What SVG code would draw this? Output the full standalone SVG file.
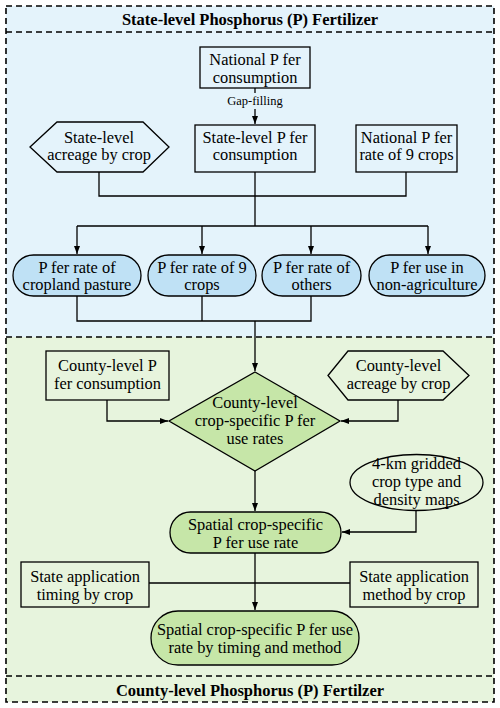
<svg xmlns="http://www.w3.org/2000/svg" width="500" height="708" viewBox="0 0 500 708">
<style>
text{font-family:"Liberation Serif","Times New Roman",serif;font-size:16.4px;fill:#000;text-anchor:middle}
.title{font-weight:bold;font-size:16.5px}
.small{font-size:12.5px}
.box{fill:none;stroke:#000;stroke-width:1.3}
.blue{fill:#bfe1f5;stroke:#000;stroke-width:1.3}
.green{fill:#c6e6a8;stroke:#000;stroke-width:1.3}
.dash{fill:none;stroke:#000;stroke-width:1.6;stroke-dasharray:6,4}
.ln{fill:none;stroke:#000;stroke-width:1.3}
.arr{fill:none;stroke:#000;stroke-width:1.3;marker-end:url(#ah)}
</style>
<defs>
<marker id="ah" markerUnits="userSpaceOnUse" markerWidth="9" markerHeight="7" refX="8" refY="3" orient="auto">
<path d="M0,0 L8,3 L0,6 z" fill="#000"/>
</marker>
</defs>
<g id="background">
<rect x="6" y="6" width="488" height="331" fill="#e4f3fb"/>
<rect x="6" y="337" width="488" height="365" fill="#e7f4dd"/>
<rect x="6" y="6" width="488" height="696" class="dash"/>
<line x1="6" y1="32" x2="494" y2="32" class="dash"/>
<line x1="6" y1="337" x2="494" y2="337" class="dash"/>
<line x1="6" y1="676" x2="494" y2="676" class="dash"/>
<text x="250" y="24.5" class="title">State-level Phosphorus (P) Fertilizer</text>
<text x="250" y="695.5" class="title">County-level Phosphorus (P) Fertilzer</text>
</g>
<g id="connectors">
<line x1="255" y1="88" x2="255" y2="93" class="ln"/>
<line x1="255" y1="109" x2="255" y2="124" class="arr"/>
<text x="255" y="104.5" class="small">Gap-filling</text>
<polyline points="99,172 99,196 406,196 406,172" class="ln"/>
<line x1="255" y1="172" x2="255" y2="226" class="ln"/>
<line x1="77" y1="226" x2="428" y2="226" class="ln"/>
<line x1="77" y1="226" x2="77" y2="254" class="arr"/>
<line x1="202" y1="226" x2="202" y2="254" class="arr"/>
<line x1="311" y1="226" x2="311" y2="254" class="arr"/>
<line x1="428" y1="226" x2="428" y2="254" class="arr"/>
<polyline points="77,296 77,321 311,321 311,296" class="ln"/>
<line x1="202" y1="296" x2="202" y2="321" class="ln"/>
<line x1="255" y1="321" x2="255" y2="371" class="arr"/>
<polyline points="107,400 107,421 168,421" class="arr"/>
<polyline points="398,400 398,421 341,421" class="arr"/>
<line x1="255" y1="471" x2="255" y2="511" class="arr"/>
<polyline points="416,511 416,532 342,532" class="arr"/>
<line x1="149" y1="583" x2="350" y2="583" class="ln"/>
<line x1="255" y1="553" x2="255" y2="610" class="arr"/>
</g>
<g id="n-national-cons">
<rect x="200" y="47" width="110" height="41" class="box"/>
<text x="255" y="65">National P fer</text>
<text x="255" y="82.5">consumption</text>
</g>
<g id="n-state-acreage">
<polygon points="30,147 57,122 143,122 169,147 143,172 57,172" class="box"/>
<text x="99" y="142.5">State-level</text>
<text x="99" y="160">acreage by crop</text>
</g>
<g id="n-state-cons">
<rect x="195" y="125" width="120" height="47" class="box"/>
<text x="255" y="142.5">State-level P fer</text>
<text x="255" y="160">consumption</text>
</g>
<g id="n-national-rate">
<rect x="356" y="125" width="101" height="47" class="box"/>
<text x="406.5" y="142.5">National P fer</text>
<text x="406.5" y="160">rate of 9 crops</text>
</g>
<g id="n-rate-pasture">
<rect x="13" y="255" width="128" height="41" rx="20.5" class="blue"/>
<text x="77" y="272.5">P fer rate of</text>
<text x="77" y="290">cropland pasture</text>
</g>
<g id="n-rate-9crops">
<rect x="148" y="255" width="108" height="41" rx="20.5" class="blue"/>
<text x="202" y="272.5">P fer rate of 9</text>
<text x="202" y="290">crops</text>
</g>
<g id="n-rate-others">
<rect x="262" y="255" width="99" height="41" rx="20.5" class="blue"/>
<text x="311.5" y="272.5">P fer rate of</text>
<text x="311.5" y="290">others</text>
</g>
<g id="n-nonag">
<rect x="369" y="255" width="116" height="41" rx="20.5" class="blue"/>
<text x="427" y="272.5">P fer use in</text>
<text x="427" y="290">non-agriculture</text>
</g>
<g id="n-county-cons">
<rect x="46" y="351" width="123" height="49" class="box"/>
<text x="107.5" y="371">County-level P</text>
<text x="107.5" y="389">fer consumption</text>
</g>
<g id="n-county-acreage">
<polygon points="328,375.5 348,351 443,351 469,375.5 443,400 348,400" class="box"/>
<text x="398.5" y="371">County-level</text>
<text x="398.5" y="389">acreage by crop</text>
</g>
<g id="n-county-rates">
<polygon points="255,372 340,421 255,471 169,421" class="green"/>
<text x="255" y="408">County-level</text>
<text x="255" y="426">crop-specific P fer</text>
<text x="255" y="444">use rates</text>
</g>
<g id="n-gridded">
<ellipse cx="416.5" cy="482.5" rx="66.5" ry="28" class="box"/>
<text x="416.5" y="468.5">4-km gridded</text>
<text x="416.5" y="486.5">crop type and</text>
<text x="416.5" y="504.5">density maps</text>
</g>
<g id="n-spatial-rate">
<rect x="170" y="512" width="171" height="41" rx="20.5" class="green"/>
<text x="255.5" y="529.5">Spatial crop-specific</text>
<text x="255.5" y="547.5">P fer use rate</text>
</g>
<g id="n-timing">
<rect x="21" y="562" width="128" height="45" class="box"/>
<text x="85" y="582">State application</text>
<text x="85" y="600">timing by crop</text>
</g>
<g id="n-method">
<rect x="350" y="562" width="128" height="45" class="box"/>
<text x="414" y="582">State application</text>
<text x="414" y="600">method by crop</text>
</g>
<g id="n-final">
<rect x="151" y="611" width="208" height="54" rx="27" class="green"/>
<text x="255" y="635">Spatial crop-specific P fer use</text>
<text x="255" y="653">rate by timing and method</text>
</g>
</svg>
